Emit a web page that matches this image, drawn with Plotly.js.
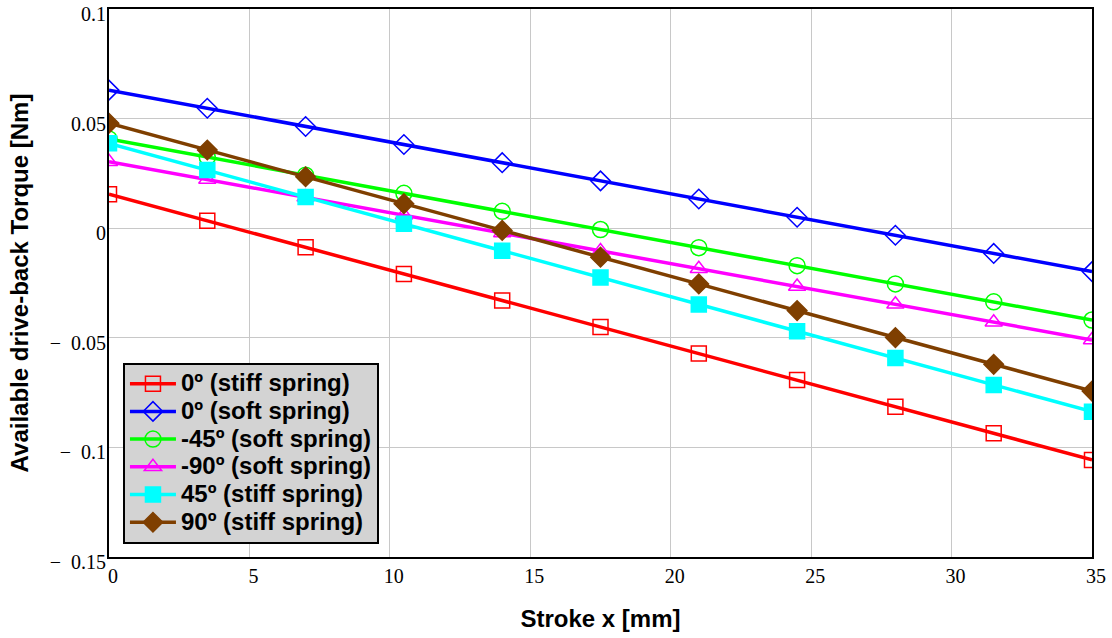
<!DOCTYPE html>
<html>
<head>
<meta charset="utf-8">
<script src="https://cdn.plot.ly/plotly-3.0.1.min.js"></script>
<style>html,body{margin:0;padding:0;background:#fff;}#chart{width:1112px;height:638px;}</style>
</head>
<body>
<div id="chart"></div>
<script>
const stroke = [0, 3.5, 7, 10.5, 14, 17.5, 21, 24.5, 28, 31.5, 35];
const stiff0 = [0.0155, 0.0034, -0.0087, -0.0209, -0.0330, -0.0451, -0.0572, -0.0693, -0.0815, -0.0936, -0.1057];
const soft0 = [0.0630, 0.0547, 0.0464, 0.0382, 0.0299, 0.0216, 0.0133, 0.0050, -0.0032, -0.0115, -0.0198];
const softM45 = [0.0407, 0.0324, 0.0242, 0.0159, 0.0077, -0.0006, -0.0089, -0.0171, -0.0254, -0.0336, -0.0419];
const softM90 = [0.0303, 0.0222, 0.0141, 0.0059, -0.0022, -0.0104, -0.0185, -0.0266, -0.0347, -0.0429, -0.0510];
const stiff45 = [0.0387, 0.0265, 0.0142, 0.0020, -0.0103, -0.0225, -0.0348, -0.0470, -0.0592, -0.0715, -0.0837];
const stiff90 = [0.0479, 0.0357, 0.0235, 0.0112, -0.0010, -0.0132, -0.0254, -0.0376, -0.0499, -0.0621, -0.0743];
const names = ["0º (stiff spring)", "0º (soft spring)", "-45º (soft spring)", "-90º (soft spring)", "45º (stiff spring)", "90º (stiff spring)"];
const yTickVals = [-0.15, -0.1, -0.05, 0, 0.05, 0.1];
const yTickText = ["\u2212\u2002" + "0.15", "\u2212\u2002" + "0.1", "\u2212\u2002" + "0.05", "0", "0.05", "0.1"];
const xTickVals = [0, 5, 10, 15, 20, 25, 30, 35];

const series = [stiff0, soft0, softM45, softM90, stiff45, stiff90];
const colors = ["#ff0000", "#0000ff", "#00ff00", "#ff00ff", "#00ffff", "#7f3f00"];
const symbols = ["square-open", "diamond-open", "circle-open", "triangle-up-open", "square", "diamond"];
const sizes = [15, 15, 16, 15, 15, 15];

const traces = series.map((ys, i) => ({
  x: stroke, y: ys, type: "scatter", mode: "lines+markers",
  name: '<span style="font-size:24px">' + names[i] + '</span>',
  line: {color: colors[i], width: 3.5},
  marker: {symbol: symbols[i], size: sizes[i], color: colors[i], line: {color: colors[i], width: 1.5}}
}));

const sansFont = "'Liberation Sans', Arial, sans-serif";
const serifFont = "'Liberation Serif', 'Times New Roman', serif";

const layout = {
  width: 1112, height: 638,
  margin: {l: 109, r: 20, t: 9, b: 81},
  paper_bgcolor: "#ffffff", plot_bgcolor: "#ffffff",
  showlegend: true,
  legend: {
    x: 0.0142, y: 0.024, xanchor: "left", yanchor: "bottom",
    bgcolor: "#d3d3d3", bordercolor: "#000000", borderwidth: 2,
    font: {family: sansFont, size: 19, color: "#000", weight: "bold"},
    itemwidth: 46, tracegroupgap: 0
  },
  xaxis: {
    range: [0, 35], tickvals: xTickVals, ticks: "",
    showgrid: true, gridcolor: "#c8c8c8", gridwidth: 1, zeroline: false,
    showline: true, linecolor: "#000", linewidth: 2, mirror: true,
    tickfont: {family: serifFont, size: 20, color: "#000"},
    ticklabeloverflow: "allow", ticklabelshift: 4,
    title: {text: "<b>Stroke x [mm]</b>", font: {family: sansFont, size: 24, color: "#000"}, standoff: 24}
  },
  yaxis: {
    range: [-0.15, 0.1], tickvals: yTickVals, ticktext: yTickText, ticks: "",
    showgrid: true, gridcolor: "#c8c8c8", gridwidth: 1, zeroline: false,
    showline: true, linecolor: "#000", linewidth: 2, mirror: true,
    tickfont: {family: serifFont, size: 20, color: "#000"},
    ticklabeloverflow: "allow", ticklabelshift: 5, ticklabelstandoff: -3,
    title: {text: "<b>Available drive-back Torque [Nm]</b>", font: {family: sansFont, size: 24, color: "#000"}, standoff: 14}
  }
};

Plotly.newPlot("chart", traces, layout, {displayModeBar: false, staticPlot: true});
</script>
</body>
</html>
